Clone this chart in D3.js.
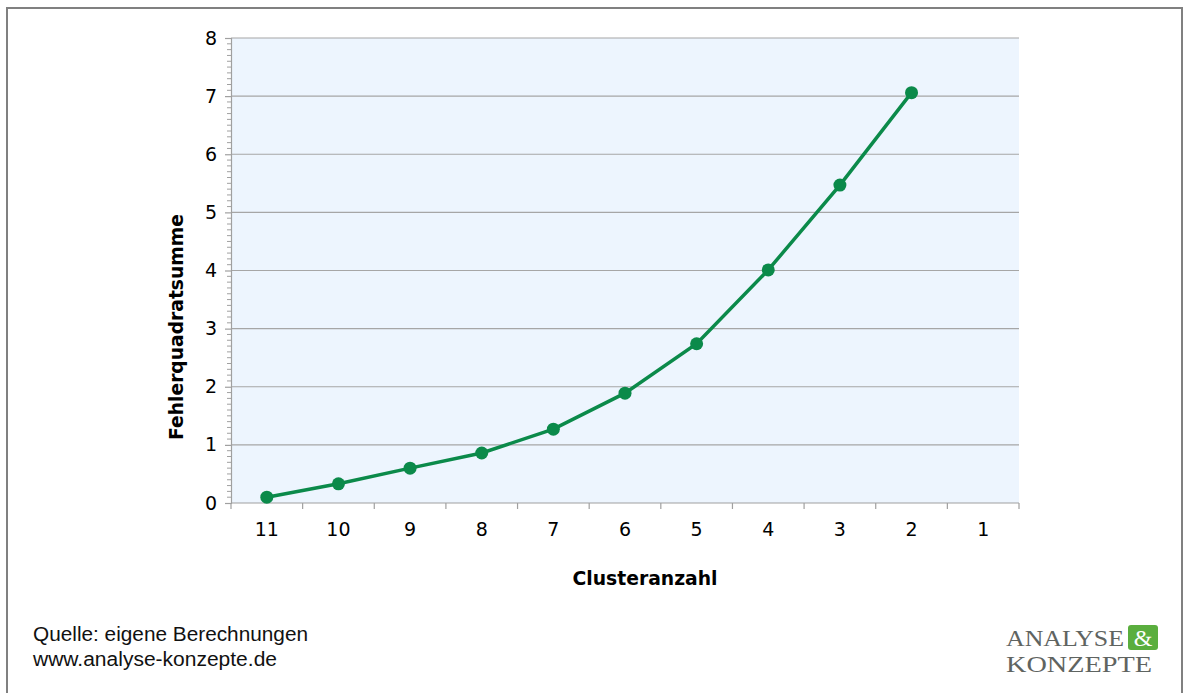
<!DOCTYPE html>
<html>
<head>
<meta charset="utf-8">
<script src="https://cdn.jsdelivr.net/npm/d3@7"></script>
<style>
  body { margin: 0; background: #fff; }
  svg { display: block; }
</style>
</head>
<body>
<svg width="1184" height="693"></svg>
<script>
// Data
const clusters = ["11", "10", "9", "8", "7", "6", "5", "4", "3", "2", "1"];
const sse = [0.10, 0.33, 0.60, 0.86, 1.27, 1.89, 2.74, 4.01, 5.47, 7.06, null];
const yTicks = [0, 1, 2, 3, 4, 5, 6, 7, 8];

const svg = d3.select("svg");
const margin = { top: 38, left: 231, right: 165, bottom: 190 };
const width = 1184 - margin.left - margin.right;
const height = 693 - margin.top - margin.bottom;

// outer frame (no bottom edge)
svg.append("path")
  .attr("d", "M7,693 V8 H1182 V693")
  .attr("fill", "none")
  .attr("stroke", "#808080")
  .attr("stroke-width", 2);

const g = svg.append("g").attr("transform", `translate(${margin.left},${margin.top})`);

const x = d3.scaleBand().domain(clusters).range([0, width]);
const y = d3.scaleLinear().domain([0, 8]).range([height, 0]);

// plot background
g.append("rect")
  .attr("width", width)
  .attr("height", height)
  .attr("fill", "#edf5fe");

// gridlines
g.selectAll(".grid")
  .data(yTicks.filter(d => d > 0))
  .enter().append("line")
  .attr("x1", 0).attr("x2", width)
  .attr("y1", d => y(d)).attr("y2", d => y(d))
  .attr("stroke", "#a6a6a6")
  .attr("stroke-width", 1.2);

// minor ticks on y axis
g.selectAll(".minor")
  .data(d3.range(0, 80).map(i => i / 10).filter(v => Math.abs(v - Math.round(v)) > 1e-6))
  .enter().append("line")
  .attr("x1", -4).attr("x2", 0)
  .attr("y1", d => y(d)).attr("y2", d => y(d))
  .attr("stroke", "#a0a0a0")
  .attr("stroke-width", 1);

// y axis
const yAxis = g.append("g")
  .call(d3.axisLeft(y).tickValues(yTicks).tickSize(6).tickPadding(8));
yAxis.selectAll("path, line").attr("stroke", "#a0a0a0").attr("stroke-width", 1.2);
yAxis.attr("font-size", null).attr("font-family", null);
yAxis.selectAll("text")
  .style("font-family", "DejaVu Sans, Verdana, sans-serif")
  .style("font-size", "19px")
  .attr("fill", "#000");

// x axis with ticks at band edges
const xAxis = g.append("g").attr("transform", `translate(0,${height})`);
xAxis.append("line")
  .attr("x1", 0).attr("x2", width)
  .attr("stroke", "#a0a0a0").attr("stroke-width", 1.2);
xAxis.selectAll(".tk")
  .data(clusters.concat(["end"]))
  .enter().append("line")
  .attr("x1", (d, i) => i * x.bandwidth())
  .attr("x2", (d, i) => i * x.bandwidth())
  .attr("y1", 0).attr("y2", 6)
  .attr("stroke", "#a0a0a0").attr("stroke-width", 1.2);
xAxis.selectAll(".lbl")
  .data(clusters)
  .enter().append("text")
  .attr("x", d => x(d) + x.bandwidth() / 2)
  .attr("y", 33)
  .attr("text-anchor", "middle")
  .style("font-family", "DejaVu Sans, Verdana, sans-serif")
  .style("font-size", "19px")
  .text(d => d);

// line + markers
const pts = clusters.map((c, i) => ({ c, v: sse[i] })).filter(d => d.v != null);
const line = d3.line()
  .x(d => x(d.c) + x.bandwidth() / 2)
  .y(d => y(d.v));

g.append("path")
  .datum(pts)
  .attr("d", line)
  .attr("fill", "none")
  .attr("stroke", "#0b8a4a")
  .attr("stroke-width", 3.5);

g.selectAll(".dot")
  .data(pts)
  .enter().append("circle")
  .attr("cx", d => x(d.c) + x.bandwidth() / 2)
  .attr("cy", d => y(d.v))
  .attr("r", 6.5)
  .attr("fill", "#0b8a4a");

// axis titles
svg.append("text")
  .attr("transform", "translate(183,327) rotate(-90)")
  .attr("text-anchor", "middle")
  .style("font-family", "DejaVu Sans, Verdana, sans-serif")
  .style("font-weight", "bold")
  .style("font-size", "19px")
  .attr("textLength", 226)
  .attr("lengthAdjust", "spacingAndGlyphs")
  .text("Fehlerquadratsumme");

svg.append("text")
  .attr("x", 645)
  .attr("y", 585)
  .attr("text-anchor", "middle")
  .style("font-family", "DejaVu Sans, Verdana, sans-serif")
  .style("font-weight", "bold")
  .style("font-size", "19px")
  .attr("textLength", 145)
  .attr("lengthAdjust", "spacingAndGlyphs")
  .text("Clusteranzahl");

// source note
const note = svg.append("text")
  .style("font-family", "Liberation Sans, Arial, sans-serif")
  .style("font-size", "20px")
  .attr("fill", "#111");
note.append("tspan").attr("x", 33).attr("y", 641).attr("textLength", 275)
  .attr("lengthAdjust", "spacingAndGlyphs").text("Quelle: eigene Berechnungen");
note.append("tspan").attr("x", 33).attr("y", 666).attr("textLength", 244)
  .attr("lengthAdjust", "spacingAndGlyphs").text("www.analyse-konzepte.de");

// logo
const logo = svg.append("g").style("font-family", "Liberation Serif, Times New Roman, serif").attr("fill", "#5f6461");
logo.append("text").attr("x", 1006).attr("y", 646).style("font-size", "24px").attr("textLength", 118)
  .attr("lengthAdjust", "spacingAndGlyphs").text("ANALYSE");
logo.append("rect").attr("x", 1128).attr("y", 625).attr("width", 30).attr("height", 25)
  .attr("rx", 3).attr("fill", "#5aae3e");
logo.append("text").attr("x", 1143).attr("y", 646).attr("text-anchor", "middle").style("font-size", "24px")
  .attr("fill", "#fff").text("&");
logo.append("text").attr("x", 1006).attr("y", 672).style("font-size", "24px").attr("textLength", 146)
  .attr("lengthAdjust", "spacingAndGlyphs").text("KONZEPTE");
</script>
</body>
</html>
